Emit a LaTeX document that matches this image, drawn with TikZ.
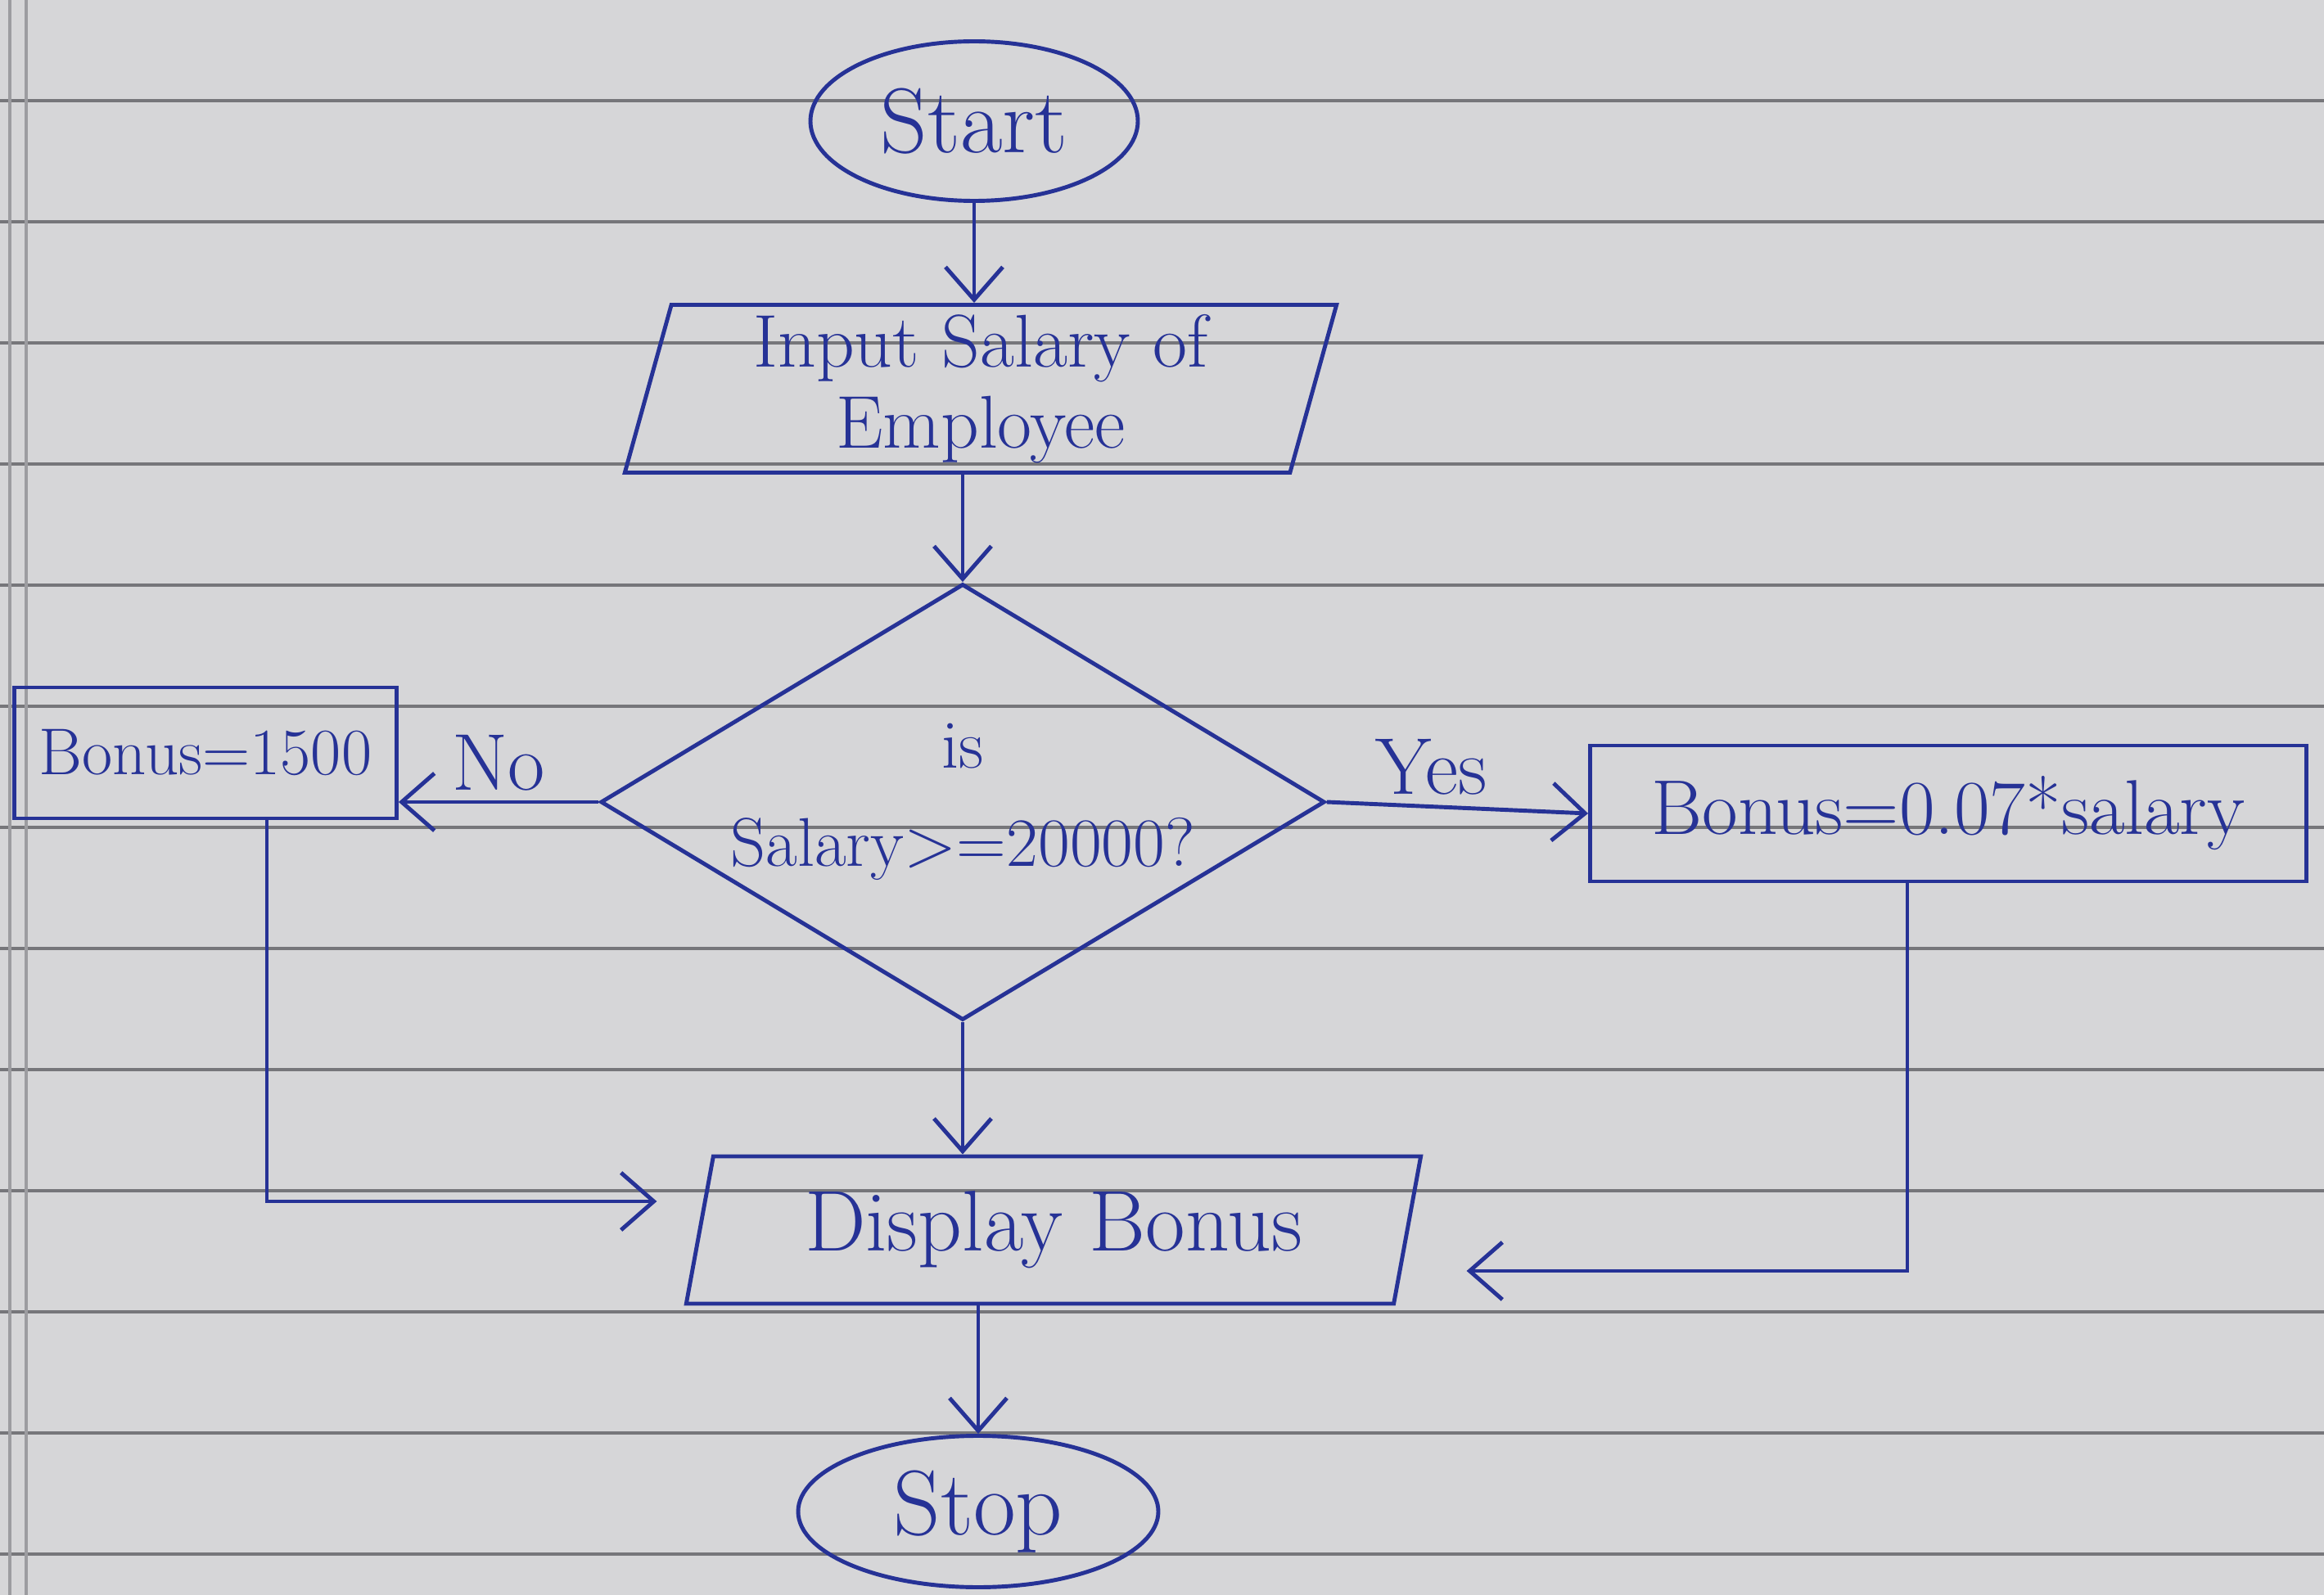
\documentclass[tikz,border=0pt]{standalone}
\usetikzlibrary{shapes.geometric,arrows.meta}

\definecolor{ink}{RGB}{38,50,150}
\definecolor{paper}{RGB}{214,214,216}
\definecolor{ruling}{RGB}{118,118,122}

\tikzset{
	flow/.style={draw=ink, line width=1.4pt, text=ink},
	terminal/.style={flow, ellipse, font=\fontsize{32}{36}\selectfont},
	io/.style={flow, trapezium, trapezium left angle=78, trapezium right angle=102,
		trapezium stretches=true, align=center},
	decision/.style={flow, diamond, aspect=1.66, inner sep=0pt, align=center,
		font=\fontsize{24}{34}\selectfont},
	process/.style={flow, rectangle},
	line/.style={draw=ink, line width=1.4pt, -{Straight Barb[length=4mm,width=7mm]}},
	answer/.style={text=ink, font=\fontsize{28}{32}\selectfont}
}

\begin{document}
\begin{tikzpicture}
	% the notebook page
	\fill [paper] (0,0) rectangle (28.39,-19.49);
	\useasboundingbox (0,0) rectangle (28.39,-19.49);
	\foreach \i in {0,...,12}
	\draw [ruling, line width=1pt] (0,{-1.23-1.48*\i}) -- (28.39,{-1.23-1.48*\i});
	\draw [ruling!60!paper, line width=1pt] (0.12,0) -- (0.12,-19.49);
	\draw [ruling!60!paper, line width=1pt] (0.32,0) -- (0.32,-19.49);

	% boxes
	\node [terminal, minimum width=4cm, minimum height=1.95cm] (start) at (11.9,-1.48) {Start};
	\node [io, minimum width=8.7cm, minimum height=2.05cm, font=\fontsize{26}{28}\selectfont]
		(input) at (11.98,-4.75) {Input Salary of\\Employee};
	\node [decision, minimum width=8.3cm, minimum height=5cm] (check) at (11.76,-9.8)
		{is\\Salary>=20000?};
	\node [process, minimum width=4.67cm, minimum height=1.6cm, font=\fontsize{23}{26}\selectfont]
		(low) at (2.51,-9.2) {Bonus=1500};
	\node [process, minimum width=8.75cm, minimum height=1.66cm, font=\fontsize{27}{30}\selectfont]
		(high) at (23.8,-9.94) {Bonus=0.07*salary};
	\node [io, minimum width=9cm, minimum height=1.8cm, font=\fontsize{30}{34}\selectfont]
		(show) at (12.87,-15.03) {Display Bonus};
	\node [terminal, minimum width=4.4cm, minimum height=1.85cm] (stop) at (11.95,-18.47) {Stop};

	% connectors
	\draw [line] (start.south) -- (start.south |- input.north);
	\draw [line] (check.north |- input.south) -- (check.north);
	\draw [line] (check.west) -- (check.west -| low.east) node [answer, midway, above] {No};
	\draw [line] (check.east) -- (high.west) node [answer, pos=0.4, above] {Yes};
	\draw [line] (check.south) -- (check.south |- show.north);
	\draw [line] ([xshift=0.75cm]low.south) |- ([xshift=-0.5cm,yshift=0.35cm]show.west);
	\draw [line] ([xshift=-0.5cm]high.south) |- ([xshift=0.7cm,yshift=-0.5cm]show.east);
	\draw [line] (stop.north |- show.south) -- (stop.north);
\end{tikzpicture}
\end{document}
